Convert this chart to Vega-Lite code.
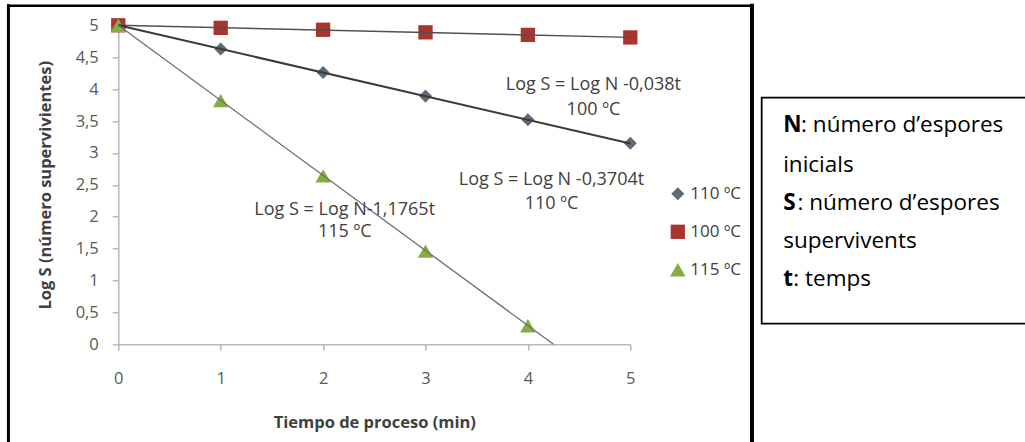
{
  "$schema": "https://vega.github.io/schema/vega-lite/v6.json",
  "width": 512,
  "height": 319,
  "autosize": {"type": "none"},
  "padding": {"left": 118.3, "top": 25.3, "right": 394.7, "bottom": 97.7},
  "background": "white",
  "config": {"font": "Open Sans", "view": {"stroke": null}},
  "datasets": {
    "points": [
      {"serie": "110 ºC", "t": 0, "v": 5},
      {"serie": "110 ºC", "t": 1, "v": 4.63},
      {"serie": "110 ºC", "t": 2, "v": 4.26},
      {"serie": "110 ºC", "t": 3, "v": 3.89},
      {"serie": "110 ºC", "t": 4, "v": 3.52},
      {"serie": "110 ºC", "t": 5, "v": 3.15},
      {"serie": "100 ºC", "t": 0, "v": 5},
      {"serie": "100 ºC", "t": 1, "v": 4.96},
      {"serie": "100 ºC", "t": 2, "v": 4.93},
      {"serie": "100 ºC", "t": 3, "v": 4.89},
      {"serie": "100 ºC", "t": 4, "v": 4.85},
      {"serie": "100 ºC", "t": 5, "v": 4.81},
      {"serie": "115 ºC", "t": 0, "v": 5},
      {"serie": "115 ºC", "t": 1, "v": 3.82},
      {"serie": "115 ºC", "t": 2, "v": 2.64},
      {"serie": "115 ºC", "t": 3, "v": 1.46},
      {"serie": "115 ºC", "t": 4, "v": 0.29}
    ],
    "trend": [
      {"serie": "100 ºC", "t": 0, "v": 5},
      {"serie": "100 ºC", "t": 5, "v": 4.81},
      {"serie": "110 ºC", "t": 0, "v": 5},
      {"serie": "110 ºC", "t": 5, "v": 3.148},
      {"serie": "115 ºC", "t": 0, "v": 5},
      {"serie": "115 ºC", "t": 4.25, "v": 0}
    ],
    "notes": [
      {"t": 4.64, "v": 4.072, "label": "Log S = Log N -0,038t"},
      {"t": 4.64, "v": 3.672, "label": "100 ºC"},
      {"t": 4.23, "v": 2.575, "label": "Log S = Log N -0,3704t"},
      {"t": 4.23, "v": 2.199, "label": "110 ºC"},
      {"t": 2.211, "v": 2.105, "label": "Log S = Log N-1,1765t"},
      {"t": 2.211, "v": 1.76, "label": "115 ºC"}
    ],
    "boxbold": [
      {"t": 6.493, "v": 3.323, "label": "N"},
      {"t": 6.493, "v": 2.105, "label": "S"},
      {"t": 6.493, "v": 0.914, "label": "t"}
    ],
    "boxtext": [
      {"t": 6.668, "v": 3.323, "label": ": número d’espores"},
      {"t": 6.493, "v": 2.708, "label": "inicials"},
      {"t": 6.632, "v": 2.105, "label": ": número d’espores"},
      {"t": 6.493, "v": 1.509, "label": "supervivents"},
      {"t": 6.592, "v": 0.914, "label": ": temps"}
    ]
  },
  "encoding": {
    "x": {
      "field": "t", "type": "quantitative",
      "scale": {"domain": [0, 5], "nice": false, "zero": false},
      "title": "Tiempo de proceso (min)",
      "axis": {
        "values": [0, 1, 2, 3, 4, 5], "grid": false, "labelFlush": false, "labelOverlap": false,
        "domainColor": "#B8B8B8", "domainWidth": 1.5, "tickColor": "#B8B8B8", "tickWidth": 1.5, "tickSize": 6,
        "labelFont": "Open Sans", "labelFontSize": 16.5, "labelColor": "#595959", "labelPadding": 20,
        "titleFont": "Open Sans", "titleFontSize": 16.5, "titleFontWeight": "bold", "titleColor": "#404040", "titlePadding": 28
      }
    },
    "y": {
      "field": "v", "type": "quantitative",
      "scale": {"domain": [0, 5], "nice": false, "zero": false},
      "title": "Log S (número supervivientes)",
      "axis": {
        "values": [0, 0.5, 1, 1.5, 2, 2.5, 3, 3.5, 4, 4.5, 5], "grid": false, "labelFlush": false, "labelOverlap": false,
        "labelExpr": "replace(format(datum.value, '~g'), '.', ',')",
        "domainColor": "#B8B8B8", "domainWidth": 1.5, "tickColor": "#B8B8B8", "tickWidth": 1.5, "tickSize": 6,
        "labelFont": "Open Sans", "labelFontSize": 16.5, "labelColor": "#595959", "labelPadding": 14,
        "titleFont": "Open Sans", "titleFontSize": 16.5, "titleFontWeight": "bold", "titleColor": "#404040", "titlePadding": 22
      }
    }
  },
  "layer": [
    {
      "data": {"values": [{"t": -1.073, "v": 5.307, "v2": -1.81}]},
      "mark": {"type": "rule", "color": "black", "strokeWidth": 3, "strokeCap": "square"},
      "encoding": {"y2": {"field": "v2"}}
    },
    {
      "data": {"values": [{"t": -1.073, "t2": 6.188, "v": 5.307}]},
      "mark": {"type": "rule", "color": "black", "strokeWidth": 2.5, "strokeCap": "square"},
      "encoding": {"x2": {"field": "t2"}}
    },
    {
      "data": {"values": [{"t": 6.188, "v": 5.307, "v2": -1.81}]},
      "mark": {"type": "rule", "color": "black", "strokeWidth": 4, "strokeCap": "square"},
      "encoding": {"y2": {"field": "v2"}}
    },
    {
      "data": {"values": [{"t": 6.283, "t2": 9.011, "v": 3.865, "v2": 0.323}]},
      "mark": {"type": "rect", "fill": "white", "stroke": "black", "strokeWidth": 1.8},
      "encoding": {"x2": {"field": "t2"}, "y2": {"field": "v2"}}
    },
    {
      "data": {"name": "points"},
      "mark": {"type": "point", "filled": true, "opacity": 1, "strokeWidth": 0},
      "encoding": {
        "color": {
          "field": "serie", "type": "nominal",
          "scale": {"domain": ["110 ºC", "100 ºC", "115 ºC"], "range": ["#5F6A78", "#A9352F", "#86AD3F"]},
          "legend": {"orient": "none", "legendX": 551, "legendY": 160, "title": null, "symbolSize": 130,
            "labelFont": "Open Sans", "labelFontSize": 17, "labelColor": "#404040", "rowPadding": 20, "labelOffset": 4, "padding": 0, "symbolStrokeWidth": 0}
        },
        "shape": {
          "field": "serie", "type": "nominal",
          "scale": {"domain": ["110 ºC", "100 ºC", "115 ºC"], "range": ["diamond", "square", "triangle-up"]},
          "legend": {"orient": "none", "legendX": 551, "legendY": 160, "title": null, "symbolSize": 130,
            "labelFont": "Open Sans", "labelFontSize": 17, "labelColor": "#404040", "rowPadding": 20, "labelOffset": 4, "padding": 0, "symbolStrokeWidth": 0}
        },
        "size": {
          "field": "serie", "type": "nominal",
          "scale": {"domain": ["110 ºC", "100 ºC", "115 ºC"], "range": [170, 240, 250]},
          "legend": null
        }
      }
    },
    {
      "data": {"name": "trend"},
      "transform": [{"filter": "datum.serie == '100 ºC'"}],
      "mark": {"type": "line", "color": "#505050", "strokeWidth": 1.4},
      "encoding": {"detail": {"field": "serie"}}
    },
    {
      "data": {"name": "trend"},
      "transform": [{"filter": "datum.serie == '110 ºC'"}],
      "mark": {"type": "line", "color": "#3A3A3A", "strokeWidth": 2},
      "encoding": {"detail": {"field": "serie"}}
    },
    {
      "data": {"name": "trend"},
      "transform": [{"filter": "datum.serie == '115 ºC'"}],
      "mark": {"type": "line", "color": "#6E6E6E", "strokeWidth": 1.3},
      "encoding": {"detail": {"field": "serie"}}
    },
    {
      "data": {"name": "notes"},
      "mark": {"type": "text", "align": "center", "baseline": "middle", "font": "Open Sans", "fontSize": 18, "color": "#404040"},
      "encoding": {"text": {"field": "label"}}
    },
    {
      "data": {"name": "boxbold"},
      "mark": {"type": "text", "align": "left", "baseline": "alphabetic", "font": "Open Sans", "fontSize": 22.5, "fontWeight": "bold", "color": "black"},
      "encoding": {"text": {"field": "label"}}
    },
    {
      "data": {"name": "boxtext"},
      "mark": {"type": "text", "align": "left", "baseline": "alphabetic", "font": "Open Sans", "fontSize": 22.5, "color": "black"},
      "encoding": {"text": {"field": "label"}}
    }
  ]
}
